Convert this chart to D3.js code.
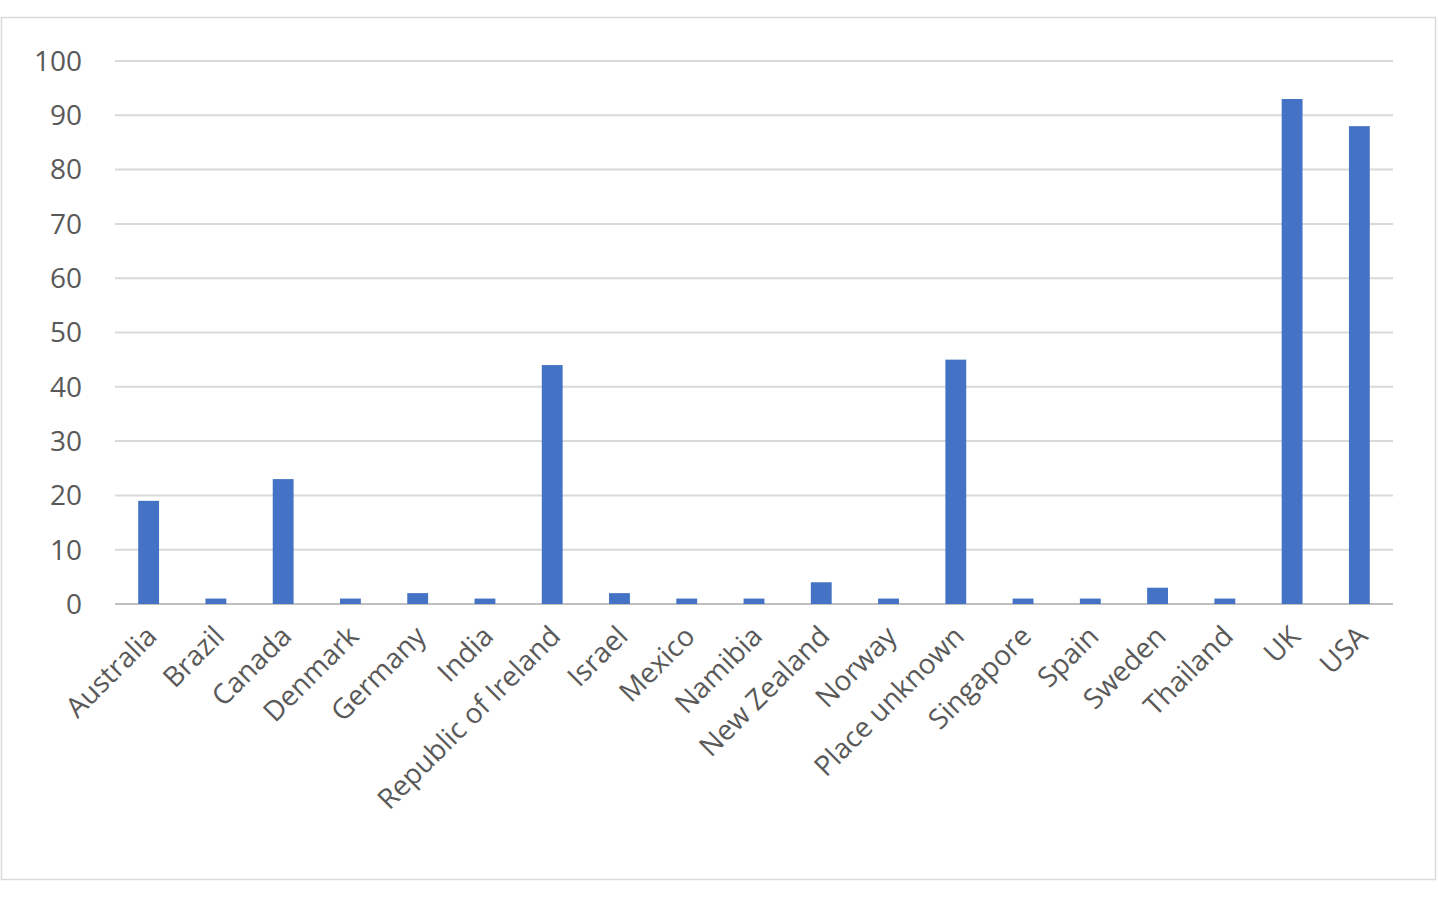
<!DOCTYPE html>
<html><head><meta charset="utf-8">
<script src="https://cdn.jsdelivr.net/npm/d3@7"></script>
<style>body{margin:0;background:#fff}svg{display:block}</style></head>
<body><svg id="c" width="1438" height="897"></svg>
<script>
const categories=["Australia","Brazil","Canada","Denmark","Germany","India","Republic of Ireland","Israel","Mexico","Namibia","New Zealand","Norway","Place unknown","Singapore","Spain","Sweden","Thailand","UK","USA"];
const values=[19,1,23,1,2,1,44,2,1,1,4,1,45,1,1,3,1,93,88];
const yTicks=[0,10,20,30,40,50,60,70,80,90,100];
const svg=d3.select("#c");
svg.append("rect").attr("x",1.5).attr("y",17.5).attr("width",1434).attr("height",862).attr("fill","#fff").attr("stroke","#d9d9d9").attr("stroke-width",1.5);
const x=d3.scaleBand().domain(categories).range([115,1393]).paddingInner(0.69).paddingOuter(0.345);
const y=d3.scaleLinear().domain([0,100]).range([604,61]);
const font="'Open Sans', 'Liberation Sans', sans-serif";
const g=svg.append("g");
g.selectAll("line.grid").data(yTicks).join("line").attr("x1",115).attr("x2",1393)
 .attr("y1",d=>y(d)).attr("y2",d=>y(d)).attr("stroke",d=>d===0?"#bfbfbf":"#d9d9d9").attr("stroke-width",2);
g.selectAll("text.yl").data(yTicks).join("text").attr("x",82).attr("y",d=>y(d)).attr("dy","0.35em")
 .attr("text-anchor","end").attr("font-family",font).attr("font-size",28).attr("fill","#595959").text(d=>d);
g.selectAll("rect.bar").data(values).join("rect").attr("x",(d,i)=>x(categories[i])).attr("width",x.bandwidth())
 .attr("y",d=>y(d)).attr("height",d=>y(0)-y(d)).attr("fill","#4472c4");
g.selectAll("text.xl").data(categories).join("text")
 .attr("transform",d=>`translate(${x(d)+x.bandwidth()/2+10},${638}) rotate(-45)`)
 .attr("text-anchor","end").attr("font-family",font).attr("font-size",28).attr("fill","#595959").text(d=>d);
</script></body></html>
